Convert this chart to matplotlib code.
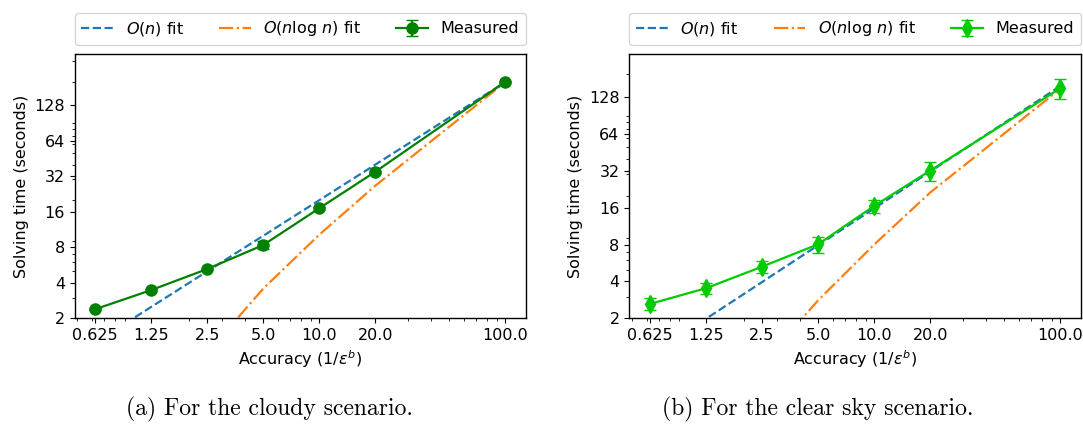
import numpy as np
import matplotlib
matplotlib.use('Agg')
import matplotlib.pyplot as plt

plt.rcParams['font.size'] = 11.5
plt.rcParams['axes.linewidth'] = 1.0

accuracy = [0.625, 1.25, 2.5, 5.0, 10.0, 20.0, 100.0]
acc_fit = [2.5, 5.0, 10.0, 20.0, 100.0]
y_ticks = [2, 4, 8, 16, 32, 64, 128]

# cloudy scenario
cloudy_time = [2.39, 3.47, 5.23, 8.35, 17.1, 34.8, 201.0]
cloudy_err = [0.05, 0.08, 0.12, 0.6, 0.5, 0.8, 5.0]
cloudy_lin = [1.25, 2.5, 5.0, 10.0, 20.0, 40.0, 200.0]
cloudy_nlogn = [1.02, 3.57, 10.2, 26.5, 200.0]

# clear sky scenario
clear_time = [2.62, 3.52, 5.28, 8.05, 16.55, 32.2, 151.7]
clear_err = [0.3, 0.35, 0.63, 1.2, 2.0, 5.7, 29.0]
clear_lin = [0.99, 1.98, 3.95, 7.9, 15.8, 31.6, 158.0]
clear_nlogn = [0.85, 2.8, 8.0, 21.3, 150.0]

fig = plt.figure(figsize=(10.83, 4.26), dpi=100)
ax1 = fig.add_axes([0.0691, 0.2528, 0.4163, 0.6197])
ax2 = fig.add_axes([0.5811, 0.2528, 0.4169, 0.6197])


def draw(ax, t, err, lin, nlogn, color, marker, msize, ytop):
    ax.plot(accuracy, lin, '--', color='tab:blue', lw=1.6, label=r'$O(n)$ fit')
    ax.plot(acc_fit, nlogn, '-.', color='tab:orange', lw=1.6, label=r'$O(n\log\,n)$ fit')
    ax.errorbar(accuracy, t, yerr=err, color=color, marker=marker, markersize=msize,
                lw=1.6, capsize=4, label='Measured')
    ax.set_xscale('log')
    ax.set_yscale('log')
    ax.set_xticks(accuracy)
    ax.set_xticklabels([str(a) for a in accuracy])
    ax.set_yticks(y_ticks)
    ax.set_yticklabels([str(v) for v in y_ticks])
    ax.set_xlim(0.625 / 10 ** 0.11, 100 * 10 ** 0.11)
    ax.set_ylim(2, ytop)
    ax.set_xlabel(r'Accuracy ($1/\varepsilon^b$)')
    ax.set_ylabel('Solving time (seconds)')
    ax.legend(loc='lower left', bbox_to_anchor=(0, 1.036, 1, 0.1), mode='expand',
              ncol=3, borderaxespad=0)


draw(ax1, cloudy_time, cloudy_err, cloudy_lin, cloudy_nlogn, 'green', 'o', 8, 344)
draw(ax2, clear_time, clear_err, clear_lin, clear_nlogn, '#00cc00', 'd', 9, 287)

fig.text(0.249, 0.038, '(a) For the cloudy scenario.', family='cmr10', size=17,
         ha='center', va='center')
fig.text(0.755, 0.038, '(b) For the clear sky scenario.', family='cmr10', size=17,
         ha='center', va='center')

fig.savefig('out.png', dpi=100)
